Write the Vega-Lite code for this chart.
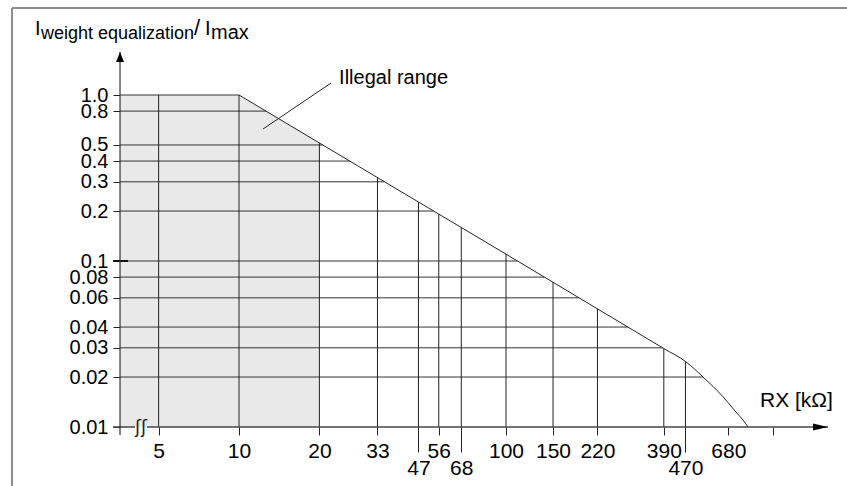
{
  "$schema": "https://vega.github.io/schema/vega-lite/v6.json",
  "width": 826,
  "height": 478,
  "autosize": "none",
  "padding": {"left": 12, "top": 8, "right": 9, "bottom": 0},
  "background": "white",
  "config": {"font": "Liberation Sans", "view": {"stroke": null}},
  "datasets": {
    "shade": [{"RX": 3.5837, "I": 1.0, "base": 0.01}, {"RX": 10, "I": 1.0, "base": 0.01}, {"RX": 20, "I": 0.514, "base": 0.01}],
    "boundary": [
      {"RX": 10, "I": 1.0}, {"RX": 20, "I": 0.514}, {"RX": 100, "I": 0.110}, {"RX": 220, "I": 0.0515},
      {"RX": 390, "I": 0.0297}, {"RX": 472, "I": 0.0247}, {"RX": 547, "I": 0.0200}, {"RX": 650, "I": 0.0152},
      {"RX": 733, "I": 0.0121}, {"RX": 773, "I": 0.0110}, {"RX": 806, "I": 0.0100}
    ],
    "vgrid": [
      {"RX": 5, "bottom": 0.01, "top": 1.0}, {"RX": 10, "bottom": 0.01, "top": 1.0}, {"RX": 20, "bottom": 0.01, "top": 0.514},
      {"RX": 33, "bottom": 0.01, "top": 0.318}, {"RX": 47, "bottom": 0.01, "top": 0.226}, {"RX": 56, "bottom": 0.01, "top": 0.191},
      {"RX": 68, "bottom": 0.01, "top": 0.159}, {"RX": 100, "bottom": 0.01, "top": 0.110}, {"RX": 150, "bottom": 0.01, "top": 0.0743},
      {"RX": 220, "bottom": 0.01, "top": 0.0515}, {"RX": 390, "bottom": 0.01, "top": 0.0297}, {"RX": 470, "bottom": 0.01, "top": 0.0248}
    ],
    "hgrid": [
      {"I": 1.0, "start": 3.5837, "end": 10}, {"I": 0.8, "start": 3.5837, "end": 12.6}, {"I": 0.5, "start": 3.5837, "end": 20.6},
      {"I": 0.4, "start": 3.5837, "end": 26.0}, {"I": 0.3, "start": 3.5837, "end": 35.0}, {"I": 0.2, "start": 3.5837, "end": 53.5},
      {"I": 0.1, "start": 3.5837, "end": 110}, {"I": 0.08, "start": 3.5837, "end": 139}, {"I": 0.06, "start": 3.5837, "end": 187},
      {"I": 0.04, "start": 3.5837, "end": 286}, {"I": 0.03, "start": 3.5837, "end": 386}, {"I": 0.02, "start": 3.5837, "end": 547}
    ],
    "frame": [
      {"a": 1.41174, "b": 1.41174, "c": 0.0030, "d": 3.3431},
      {"a": 1.41174, "b": 2100, "c": 3.3431, "d": 3.3431}
    ],
    "xaxisline": [{"a": 3.3747, "b": 4.0782, "I": 0.01}, {"a": 4.5231, "b": 1606.9, "I": 0.01}],
    "ymark": [{"a": 3.3747, "b": 3.839, "I": 0.1}],
    "yaxisline": [{"RX": 3.5837, "a": 0.00895, "b": 1.8155}],
    "xarrow": [{"RX": 1606.9, "I": 0.01}],
    "yarrow": [{"RX": 3.5837, "I": 1.8155}],
    "leader": [{"a": 22.11, "b": 12.30, "c": 1.1809, "d": 0.6240}]
  },
  "layer": [
    {
      "data": {"name": "shade"},
      "mark": {"type": "area", "fill": "#e9e9e9"},
      "encoding": {
        "x": {
          "field": "RX", "type": "quantitative",
          "scale": {"type": "log", "domain": [1.41174, 1751.5], "nice": false},
          "axis": {
            "orient": "bottom", "offset": -59, "domain": false, "grid": false, "title": null,
            "values": [5, 10, 20, 33, 47, 56, 68, 100, 150, 220, 390, 470, 680, 1000],
            "labelExpr": "datum.value == 1000 ? '' : format(datum.value, 'd')",
            "labelFontSize": 21, "labelColor": "#000", "labelPadding": 5,
            "labelFlush": false, "labelOverlap": false, "labelBound": false,
            "tickColor": "#222", "tickWidth": 1,
            "tickSize": {"condition": {"test": "indexof([47, 68, 470], datum.value) >= 0", "value": 25}, "value": 8}
          }
        },
        "y": {
          "field": "I", "type": "quantitative",
          "scale": {"type": "log", "domain": [0.0044115, 3.3431], "nice": false},
          "axis": {
            "orient": "left", "offset": -108, "domain": false, "grid": false, "title": null,
            "values": [0.01, 0.02, 0.03, 0.04, 0.06, 0.08, 0.1, 0.2, 0.3, 0.4, 0.5, 0.8, 1.0],
            "labelExpr": "datum.value == 1 ? '1.0' : '' + datum.value",
            "labelFontSize": 20, "labelColor": "#000", "labelPadding": 5,
            "labelFlush": false, "labelOverlap": false, "labelBound": false,
            "tickColor": "#222", "tickWidth": 1, "tickSize": 7
          }
        },
        "y2": {"field": "base"}
      }
    },
    {
      "data": {"name": "frame"},
      "mark": {"type": "rule", "stroke": "#8c8c8c", "strokeWidth": 2, "clip": false},
      "encoding": {
        "x": {"field": "a", "type": "quantitative", "scale": {"type": "log", "domain": [1.41174, 1751.5], "nice": false}, "axis": {"title": null}},
        "x2": {"field": "b"},
        "y": {"field": "c", "type": "quantitative", "scale": {"type": "log", "domain": [0.0044115, 3.3431], "nice": false}, "axis": {"title": null}},
        "y2": {"field": "d"}
      }
    },
    {
      "data": {"name": "hgrid"},
      "mark": {"type": "rule", "stroke": "#333", "strokeWidth": 1},
      "encoding": {
        "y": {"field": "I", "type": "quantitative", "scale": {"type": "log", "domain": [0.0044115, 3.3431], "nice": false}, "axis": {"title": null}},
        "x": {"field": "start", "type": "quantitative", "scale": {"type": "log", "domain": [1.41174, 1751.5], "nice": false}, "axis": {"title": null}},
        "x2": {"field": "end"}
      }
    },
    {
      "data": {"name": "vgrid"},
      "mark": {"type": "rule", "stroke": "#222", "strokeWidth": 1},
      "encoding": {
        "x": {"field": "RX", "type": "quantitative", "scale": {"type": "log", "domain": [1.41174, 1751.5], "nice": false}, "axis": {"title": null}},
        "y": {"field": "bottom", "type": "quantitative", "scale": {"type": "log", "domain": [0.0044115, 3.3431], "nice": false}, "axis": {"title": null}},
        "y2": {"field": "top"}
      }
    },
    {
      "data": {"name": "boundary"},
      "mark": {"type": "line", "stroke": "#222", "strokeWidth": 1, "interpolate": "monotone"},
      "encoding": {
        "x": {"field": "RX", "type": "quantitative", "scale": {"type": "log", "domain": [1.41174, 1751.5], "nice": false}, "axis": {"title": null}},
        "y": {"field": "I", "type": "quantitative", "scale": {"type": "log", "domain": [0.0044115, 3.3431], "nice": false}, "axis": {"title": null}}
      }
    },
    {
      "data": {"name": "xaxisline"},
      "mark": {"type": "rule", "stroke": "#444", "strokeWidth": 1.5},
      "encoding": {
        "x": {"field": "a", "type": "quantitative", "scale": {"type": "log", "domain": [1.41174, 1751.5], "nice": false}, "axis": {"title": null}},
        "x2": {"field": "b"},
        "y": {"field": "I", "type": "quantitative", "scale": {"type": "log", "domain": [0.0044115, 3.3431], "nice": false}, "axis": {"title": null}}
      }
    },
    {
      "data": {"name": "ymark"},
      "mark": {"type": "rule", "stroke": "#111", "strokeWidth": 2},
      "encoding": {
        "x": {"field": "a", "type": "quantitative", "scale": {"type": "log", "domain": [1.41174, 1751.5], "nice": false}, "axis": {"title": null}},
        "x2": {"field": "b"},
        "y": {"field": "I", "type": "quantitative", "scale": {"type": "log", "domain": [0.0044115, 3.3431], "nice": false}, "axis": {"title": null}}
      }
    },
    {
      "data": {"name": "yaxisline"},
      "mark": {"type": "rule", "stroke": "#333", "strokeWidth": 1.2},
      "encoding": {
        "x": {"field": "RX", "type": "quantitative", "scale": {"type": "log", "domain": [1.41174, 1751.5], "nice": false}, "axis": {"title": null}},
        "y": {"field": "a", "type": "quantitative", "scale": {"type": "log", "domain": [0.0044115, 3.3431], "nice": false}, "axis": {"title": null}},
        "y2": {"field": "b"}
      }
    },
    {
      "data": {"name": "xarrow"},
      "mark": {"type": "point", "shape": "M0,0L-2,-0.47L-2,0.47Z", "size": 225, "filled": true, "fill": "#000", "strokeWidth": 0, "opacity": 1},
      "encoding": {
        "x": {"field": "RX", "type": "quantitative", "scale": {"type": "log", "domain": [1.41174, 1751.5], "nice": false}, "axis": {"title": null}},
        "y": {"field": "I", "type": "quantitative", "scale": {"type": "log", "domain": [0.0044115, 3.3431], "nice": false}, "axis": {"title": null}}
      }
    },
    {
      "data": {"name": "yarrow"},
      "mark": {"type": "point", "shape": "M0,0L-0.4,1L0.4,1Z", "size": 400, "filled": true, "fill": "#000", "strokeWidth": 0, "opacity": 1},
      "encoding": {
        "x": {"field": "RX", "type": "quantitative", "scale": {"type": "log", "domain": [1.41174, 1751.5], "nice": false}, "axis": {"title": null}},
        "y": {"field": "I", "type": "quantitative", "scale": {"type": "log", "domain": [0.0044115, 3.3431], "nice": false}, "axis": {"title": null}}
      }
    },
    {
      "data": {"name": "leader"},
      "mark": {"type": "rule", "stroke": "#222", "strokeWidth": 1},
      "encoding": {
        "x": {"field": "a", "type": "quantitative", "scale": {"type": "log", "domain": [1.41174, 1751.5], "nice": false}, "axis": {"title": null}},
        "x2": {"field": "b"},
        "y": {"field": "c", "type": "quantitative", "scale": {"type": "log", "domain": [0.0044115, 3.3431], "nice": false}, "axis": {"title": null}},
        "y2": {"field": "d"}
      }
    },
    {
      "data": {"values": [{"RX": 4.295, "I": 0.009795, "t": "ʃʃ"}]},
      "mark": {"type": "text", "font": "DejaVu Sans", "fontSize": 18, "align": "center", "baseline": "middle", "fill": "#222"},
      "encoding": {
        "x": {"field": "RX", "type": "quantitative", "scale": {"type": "log", "domain": [1.41174, 1751.5], "nice": false}, "axis": {"title": null}},
        "y": {"field": "I", "type": "quantitative", "scale": {"type": "log", "domain": [0.0044115, 3.3431], "nice": false}, "axis": {"title": null}},
        "text": {"field": "t"}
      }
    },
    {
      "data": {"values": [{"RX": 23.7, "I": 1.165, "t": "Illegal range"}]},
      "mark": {"type": "text", "fontSize": 20, "align": "left", "baseline": "alphabetic", "fill": "#000"},
      "encoding": {
        "x": {"field": "RX", "type": "quantitative", "scale": {"type": "log", "domain": [1.41174, 1751.5], "nice": false}, "axis": {"title": null}},
        "y": {"field": "I", "type": "quantitative", "scale": {"type": "log", "domain": [0.0044115, 3.3431], "nice": false}, "axis": {"title": null}},
        "text": {"field": "t"}
      }
    },
    {
      "data": {"values": [{"RX": 894.0, "I": 0.0132, "t": "RX [kΩ]"}]},
      "mark": {"type": "text", "fontSize": 21, "align": "left", "baseline": "alphabetic", "fill": "#000"},
      "encoding": {
        "x": {"field": "RX", "type": "quantitative", "scale": {"type": "log", "domain": [1.41174, 1751.5], "nice": false}, "axis": {"title": null}},
        "y": {"field": "I", "type": "quantitative", "scale": {"type": "log", "domain": [0.0044115, 3.3431], "nice": false}, "axis": {"title": null}},
        "text": {"field": "t"}
      }
    },
    {
      "data": {"values": [{"RX": 1.7219, "I": 2.2983, "t": "I"}, {"RX": 7.456, "I": 2.2983, "t": "I"}]},
      "mark": {"type": "text", "fontSize": 20, "align": "left", "baseline": "alphabetic", "fill": "#000"},
      "encoding": {
        "x": {"field": "RX", "type": "quantitative", "scale": {"type": "log", "domain": [1.41174, 1751.5], "nice": false}, "axis": {"title": null}},
        "y": {"field": "I", "type": "quantitative", "scale": {"type": "log", "domain": [0.0044115, 3.3431], "nice": false}, "axis": {"title": null}},
        "text": {"field": "t"}
      }
    },
    {
      "data": {"values": [{"RX": 1.8132, "I": 2.1748, "t": "weight equalization"}]},
      "mark": {"type": "text", "fontSize": 18, "align": "left", "baseline": "alphabetic", "fill": "#000"},
      "encoding": {
        "x": {"field": "RX", "type": "quantitative", "scale": {"type": "log", "domain": [1.41174, 1751.5], "nice": false}, "axis": {"title": null}},
        "y": {"field": "I", "type": "quantitative", "scale": {"type": "log", "domain": [0.0044115, 3.3431], "nice": false}, "axis": {"title": null}},
        "text": {"field": "t"}
      }
    },
    {
      "data": {"values": [{"RX": 6.78, "I": 2.2983, "t": "/"}]},
      "mark": {"type": "text", "fontSize": 22, "align": "left", "baseline": "alphabetic", "fill": "#000"},
      "encoding": {
        "x": {"field": "RX", "type": "quantitative", "scale": {"type": "log", "domain": [1.41174, 1751.5], "nice": false}, "axis": {"title": null}},
        "y": {"field": "I", "type": "quantitative", "scale": {"type": "log", "domain": [0.0044115, 3.3431], "nice": false}, "axis": {"title": null}},
        "text": {"field": "t"}
      }
    },
    {
      "data": {"values": [{"RX": 7.854, "I": 2.1748, "t": "max"}]},
      "mark": {"type": "text", "fontSize": 20, "align": "left", "baseline": "alphabetic", "fill": "#000"},
      "encoding": {
        "x": {"field": "RX", "type": "quantitative", "scale": {"type": "log", "domain": [1.41174, 1751.5], "nice": false}, "axis": {"title": null}},
        "y": {"field": "I", "type": "quantitative", "scale": {"type": "log", "domain": [0.0044115, 3.3431], "nice": false}, "axis": {"title": null}},
        "text": {"field": "t"}
      }
    }
  ]
}
